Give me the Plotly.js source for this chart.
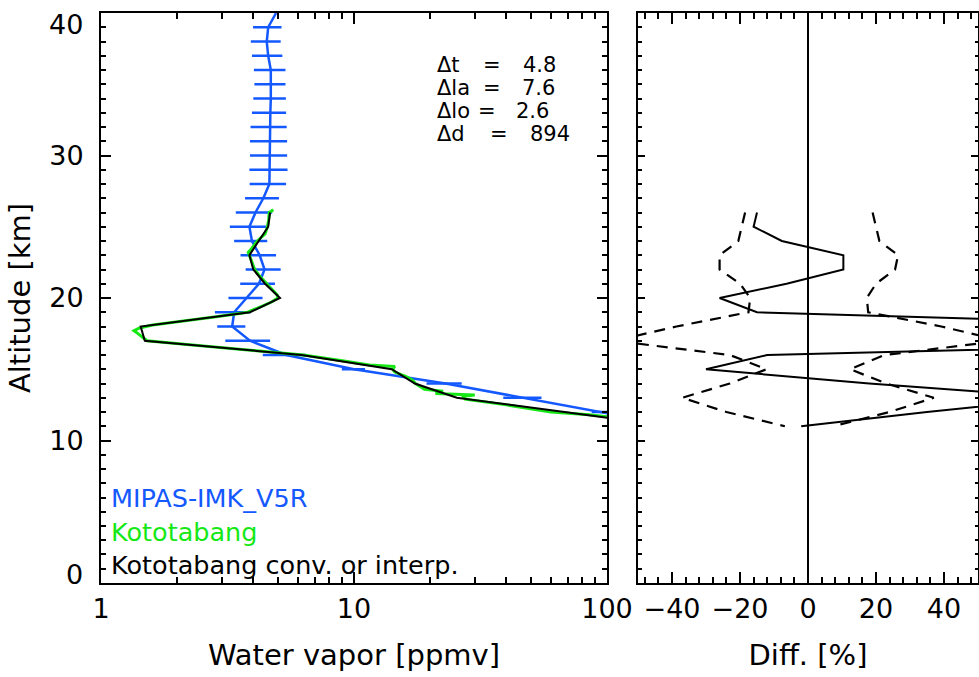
<!DOCTYPE html>
<html>
<head>
<meta charset="utf-8">
<script src="https://cdn.plot.ly/plotly-3.0.1.min.js"></script>
<style>
  html, body { margin: 0; padding: 0; background: #ffffff; }
  #chart { width: 979px; height: 677px; }
</style>
</head>
<body>
<div id="chart"></div>
<script>
// ---------------- data ----------------
// MIPAS-IMK_V5R water vapour profile [ppmv] with error bars
const mipasAlt = [40, 39, 38, 37, 36, 35, 34, 33, 32, 31, 30, 29, 28, 27, 26, 25, 24, 23, 22, 21, 20, 19, 18, 17, 16, 15, 14, 13, 12, 11];
const mipasH2O = [4.92, 4.58, 4.52, 4.58, 4.69, 4.70, 4.69, 4.67, 4.66, 4.66, 4.66, 4.66, 4.63, 4.38, 4.08, 3.86, 3.95, 4.24, 4.43, 4.21, 3.77, 3.36, 3.30, 3.88, 5.4, 10.0, 23.0, 47.0, 97.0, 190.0];
const mipasErr = [0, 0.59, 0.61, 0.63, 0.67, 0.66, 0.69, 0.72, 0.76, 0.78, 0.78, 0.80, 0.76, 0.67, 0.67, 0.63, 0.59, 0.68, 0.70, 0.66, 0.58, 0.54, 0.42, 0.78, 1.04, 1.05, 3.65, 8.1, 10.0, 20.0];

// Kototabang radiosonde (high resolution)
const kotoAlt = [26.2, 26.0, 25.5, 25.0, 24.5, 24.0, 23.5, 23.2, 23.0, 22.5, 22.0, 21.5, 21.0, 20.5, 20.2, 20.0, 19.7, 19.3, 19.0, 18.7, 18.4, 18.1, 17.9, 17.7, 17.5, 17.2, 17.0, 16.7, 16.4, 16.0, 15.6, 15.3, 15.2, 15.0, 14.8, 14.5, 14.25, 14.0, 13.6, 13.45, 13.3, 13.2, 13.1, 12.9, 12.5, 12.0, 11.8, 11.6];
const kotoH2O = [4.8, 4.62, 4.6, 4.55, 4.45, 4.15, 3.95, 3.82, 3.86, 3.95, 4.05, 4.25, 4.5, 4.8, 4.98, 5.0, 4.7, 4.2, 3.8, 2.9, 2.15, 1.6, 1.42, 1.35, 1.4, 1.48, 1.52, 2.3, 3.5, 6.3, 9.0, 11.5, 14.5, 14.2, 14.5, 16.0, 17.0, 17.5, 19.0, 22.5, 21.0, 30.0, 27.0, 27.5, 40.0, 60.0, 85.0, 110.0];

// Kototabang convolved or interpolated to the MIPAS grid
const convAlt = [26, 25, 24, 23, 22, 21, 20, 19, 18, 17, 16, 15, 14, 13, 12, 11];
const convH2O = [4.66, 4.58, 4.2, 3.86, 4.0, 4.45, 5.10, 3.88, 1.435, 1.49, 6.2, 14.1, 17.4, 25.5, 68.0, 180.0];

// Right panel: difference [%] and combined error (dashed)
const diffAlt  = [26, 25, 24, 23, 22, 21, 20, 19, 18, 17, 16, 15, 14, 13, 12, 11];
const diffPct  = [-15, -16, -7.7, 10.4, 10.4, -6.3, -26, -15, 130, 160, -12, -30, 18, 75, 35, -2];
const errHigh  = [19, 20, 21, 26.5, 25.6, 20, 17.3, 17.7, 39.2, 57, 22.5, 12.4, 23, 37, 24, 7.4];
const errLow   = [-18.5, -19.5, -20.5, -26, -26, -20, -17, -17.5, -38.7, -57, -23, -12.2, -23, -37, -24, -6.8];

// tick labels
const wvTicks = [1, 10, 100];
const wvTickText = ['1', '10', '100'];
const wvMinor = [2, 3, 4, 5, 6, 7, 8, 9, 20, 30, 40, 50, 60, 70, 80, 90];
const diffTicks = [-40, -20, 0, 20, 40];
const diffTickText = ['\u221240', '\u221220', '0', '20', '40'];
const altTicks = [0, 10, 20, 30, 40];
const altTickText = ['', '10', '20', '30', ''];   // end labels are drawn inset, as in the reference
const altEndLabels = ['0', '40'];

const legendLabels = ['MIPAS-IMK_V5R', 'Kototabang', 'Kototabang conv. or interp.'];
const deltaNames = ['\u0394t', '\u0394la', '\u0394lo', '\u0394d'];
const deltaValues = ['4.8', '7.6', '2.6', '894'];

// ---------------- styling / geometry ----------------
const BLUE = '#1458ff';
const GREEN = '#16e816';
const FONT = 'DejaVu Sans, Liberation Sans, sans-serif';
const M = {l: 101, r: 1, t: 13, b: 94};
const PW = 979 - M.l - M.r, PH = 677 - M.t - M.b;
const px = (x) => (x - M.l) / PW;
const py = (y) => (677 - M.b - y) / PH;

const traces = [
  {x: mipasH2O, y: mipasAlt, xaxis: 'x', yaxis: 'y', mode: 'lines', name: legendLabels[0],
   line: {color: BLUE, width: 2.5},
   error_x: {type: 'data', array: mipasErr, visible: true, color: BLUE, thickness: 2.5, width: 0}},
  {x: kotoH2O, y: kotoAlt, xaxis: 'x', yaxis: 'y', mode: 'lines', name: legendLabels[1],
   line: {color: GREEN, width: 3}},
  {x: convH2O, y: convAlt, xaxis: 'x', yaxis: 'y', mode: 'lines', name: legendLabels[2],
   line: {color: '#000000', width: 2}},
  {x: diffPct, y: diffAlt, xaxis: 'x2', yaxis: 'y2', mode: 'lines',
   line: {color: '#000000', width: 2}},
  {x: errHigh, y: diffAlt, xaxis: 'x2', yaxis: 'y2', mode: 'lines',
   line: {color: '#000000', width: 2.2, dash: '11px,8px'}},
  {x: errLow, y: diffAlt, xaxis: 'x2', yaxis: 'y2', mode: 'lines',
   line: {color: '#000000', width: 2.2, dash: '11px,8px'}}
];

const axCommon = {
  showline: true, linecolor: '#000', linewidth: 2, mirror: 'allticks',
  ticks: 'inside', tickcolor: '#000', tickwidth: 2,
  showgrid: false, zeroline: false, fixedrange: true,
  tickfont: {family: FONT, size: 27, color: '#000'}
};

const legendY = [498, 532, 565];
const legendColors = [BLUE, GREEN, '#000000'];
const deltaY = [65, 88, 111, 134];
const eqX = [491.5, 491.5, 486.5, 498.5];
const valX = [539, 538.5, 532.5, 549.5];
const DFS = 21;

const annotations = [];
// inset end labels of the altitude axis
[[altEndLabels[0], 574], [altEndLabels[1], 25]].forEach(([t, y]) => annotations.push({
  text: t, xref: 'paper', yref: 'paper', x: px(85), y: py(y),
  xanchor: 'right', yanchor: 'middle', showarrow: false,
  font: {family: FONT, size: 27, color: '#000'}
}));
legendLabels.forEach((t, i) => annotations.push({
  text: t, xref: 'paper', yref: 'paper', x: px(109), y: py(legendY[i]),
  xanchor: 'left', yanchor: 'middle', showarrow: false,
  font: {family: FONT, size: 25.5, color: legendColors[i]}
}));
deltaNames.forEach((t, i) => {
  annotations.push({text: t, xref: 'paper', yref: 'paper', x: px(435), y: py(deltaY[i]),
    xanchor: 'left', yanchor: 'middle', showarrow: false, font: {family: FONT, size: DFS, color: '#000'}});
  annotations.push({text: '=', xref: 'paper', yref: 'paper', x: px(eqX[i]), y: py(deltaY[i]),
    xanchor: 'center', yanchor: 'middle', showarrow: false, font: {family: FONT, size: DFS, color: '#000'}});
  annotations.push({text: deltaValues[i], xref: 'paper', yref: 'paper', x: px(valX[i]), y: py(deltaY[i]),
    xanchor: 'center', yanchor: 'middle', showarrow: false, font: {family: FONT, size: DFS, color: '#000'}});
});

const layout = {
  width: 979, height: 677,
  margin: M,
  paper_bgcolor: '#ffffff', plot_bgcolor: '#ffffff',
  font: {family: FONT, color: '#000'},
  showlegend: false,
  xaxis: Object.assign({}, axCommon, {
    type: 'log', range: [0, 2], domain: [0, (607 - M.l) / PW], anchor: 'y',
    tickvals: wvTicks, ticktext: wvTickText, ticklen: 11, ticklabelstandoff: 1,
    minor: {tickvals: wvMinor, ticks: 'inside', ticklen: 6, tickwidth: 2, tickcolor: '#000'},
    title: {text: 'Water vapor [ppmv]', font: {family: FONT, size: 29, color: '#000'}, standoff: 21}
  }),
  yaxis: Object.assign({}, axCommon, {
    range: [-0.0005, 40.0005], domain: [0, 1], anchor: 'x',
    tickvals: altTicks, ticktext: altTickText, ticklen: 10, ticklabelstandoff: 10,
    minor: {dtick: 1, tick0: 0, ticks: 'inside', ticklen: 5, tickwidth: 2, tickcolor: '#000'},
    title: {text: 'Altitude [km]', font: {family: FONT, size: 29, color: '#000'}, standoff: 10}
  }),
  xaxis2: Object.assign({}, axCommon, {
    range: [-50, 50], domain: [(638 - M.l) / PW, 1], anchor: 'y2',
    tickvals: diffTicks, ticktext: diffTickText, ticklen: 11, ticklabelstandoff: 1,
    zeroline: true, zerolinecolor: '#000', zerolinewidth: 2,
    minor: {dtick: 4, tick0: 0, ticks: 'inside', ticklen: 6, tickwidth: 2, tickcolor: '#000'},
    title: {text: 'Diff. [%]', font: {family: FONT, size: 29, color: '#000'}, standoff: 21}
  }),
  yaxis2: Object.assign({}, axCommon, {
    range: [-0.0005, 40.0005], domain: [0, 1], anchor: 'x2',
    tickvals: altTicks, ticklen: 7, showticklabels: false,
    minor: {dtick: 1, tick0: 0, ticks: 'inside', ticklen: 3.5, tickwidth: 2, tickcolor: '#000'}
  }),
  annotations: annotations
};

Plotly.newPlot('chart', traces, layout, {staticPlot: true, displayModeBar: false});
</script>
</body>
</html>
